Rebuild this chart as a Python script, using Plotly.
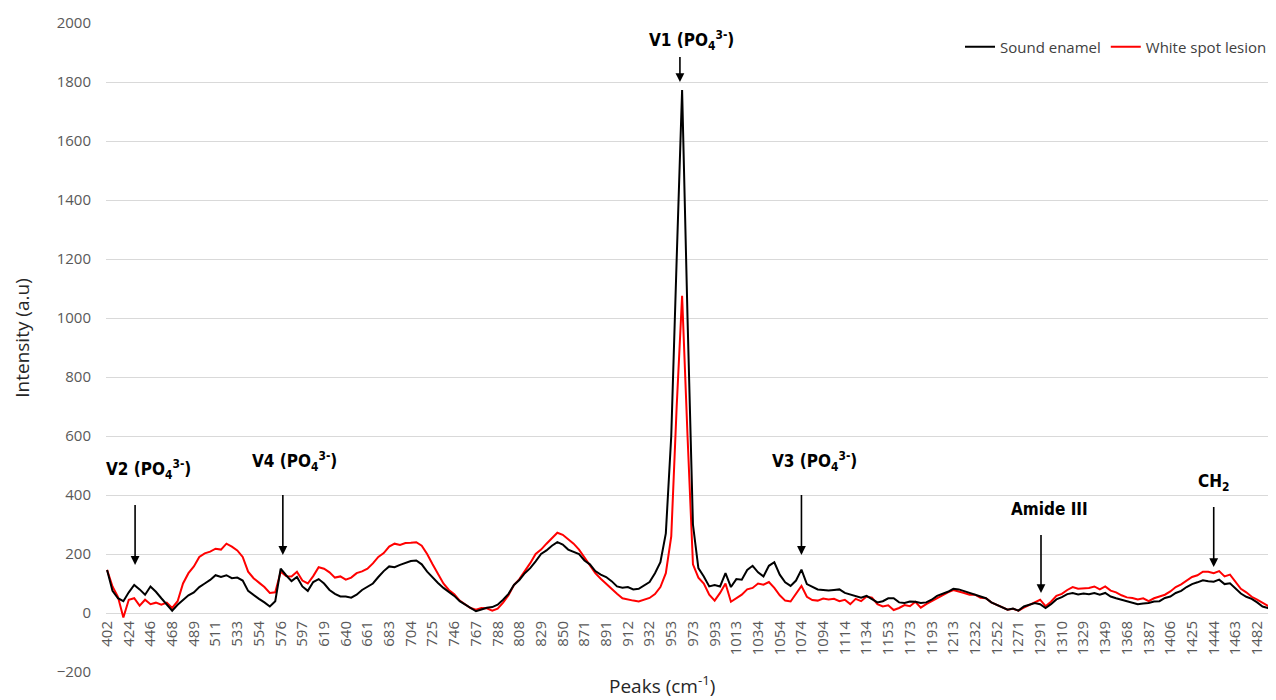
import numpy as np
import plotly.graph_objects as go

# ---------------- data ----------------
tick_labels = ["402", "424", "446", "468", "489", "511", "533", "554", "576", "597",
               "619", "640", "661", "683", "704", "725", "746", "767", "788", "808",
               "829", "850", "871", "891", "912", "932", "953", "973", "993", "1013",
               "1034", "1054", "1074", "1094", "1114", "1134", "1153", "1173", "1193", "1213",
               "1232", "1252", "1271", "1291", "1310", "1329", "1349", "1368", "1387", "1406",
               "1425", "1444", "1463", "1482"]

points_per_tick = 4

sound_enamel = [
    146, 75, 50, 40, 70, 95, 80, 62, 90, 72, 50, 30, 8, 28, 45, 60,
    70, 88, 100, 112, 128, 122, 128, 118, 120, 110, 75, 60, 48, 36, 22, 40,
    150, 128, 108, 122, 90, 75, 105, 115, 100, 78, 65, 56, 56, 52, 62, 78,
    88, 100, 122, 142, 158, 155, 163, 170, 176, 178, 165, 140, 120, 102, 85, 72,
    58, 40, 28, 17, 6, 12, 18, 20, 28, 45, 65, 95, 112, 135, 152, 175,
    200, 212, 228, 240, 232, 215, 208, 200, 178, 165, 142, 130, 122, 108, 90, 86,
    88, 80, 82, 94, 105, 135, 172, 270, 600, 1200, 1773, 1000, 300, 152, 124, 90,
    95, 90, 135, 88, 115, 113, 146, 160, 138, 124, 160, 172, 130, 104, 92, 110,
    147, 98, 88, 80, 78, 76, 78, 80, 68, 62, 56, 52, 58, 48, 36, 40,
    50, 50, 36, 34, 39, 38, 34, 36, 45, 58, 65, 72, 82, 80, 74, 68,
    62, 56, 50, 36, 27, 18, 11, 15, 8, 22, 28, 34, 30, 17, 30, 46,
    54, 64, 68, 63, 66, 64, 68, 62, 68, 56, 50, 45, 42, 36, 30, 32,
    34, 39, 40, 51, 56, 68, 75, 88, 98, 104, 111, 108, 106, 113, 98, 101,
    85, 66, 55, 48, 36, 22, 17, 3,
]

white_spot_lesion = [
    146, 90, 55, -15, 45, 50, 25, 45, 30, 35, 28, 35, 17, 40, 100, 135,
    158, 190, 202, 208, 218, 215, 235, 225, 212, 190, 140, 118, 103, 88, 68, 70,
    140, 125, 124, 140, 110, 100, 125, 155, 150, 138, 120, 124, 113, 120, 135, 141,
    150, 168, 190, 203, 225, 235, 231, 237, 238, 240, 228, 200, 165, 130, 100, 78,
    64, 42, 28, 17, 11, 17, 16, 8, 15, 35, 60, 95, 115, 140, 169, 200,
    215, 235, 255, 272, 265, 250, 235, 215, 188, 160, 135, 116, 98, 80, 65, 50,
    45, 42, 39, 44, 51, 64, 88, 135, 260, 700, 1075, 600, 165, 120, 100, 62,
    42, 68, 100, 38, 50, 62, 80, 85, 100, 96, 105, 85, 60, 42, 39, 65,
    92, 55, 44, 42, 49, 46, 48, 40, 45, 30, 48, 40, 56, 52, 30, 22,
    26, 10, 17, 27, 23, 38, 18, 30, 40, 52, 60, 70, 78, 74, 68, 62,
    62, 52, 50, 36, 27, 20, 11, 14, 8, 18, 27, 34, 45, 23, 38, 58,
    65, 78, 88, 82, 84, 85, 90, 80, 90, 76, 70, 60, 53, 51, 46, 50,
    40, 50, 56, 62, 73, 88, 97, 110, 122, 128, 140, 140, 135, 142, 124, 130,
    107, 82, 70, 55, 45, 34, 24, 2,
]

series_names = ["Sound enamel", "White spot lesion"]
series_colors = ["#000000", "#FF0000"]

# peak annotations: label, arrow head (tick units, intensity)
peak_labels = ["V2 (PO<sub>4</sub><sup>3-</sup>)", "V4 (PO<sub>4</sub><sup>3-</sup>)",
               "V1 (PO<sub>4</sub><sup>3-</sup>)", "V3 (PO<sub>4</sub><sup>3-</sup>)",
               "Amide III", "CH<sub>2</sub>"]
arrow_x = [1.29, 8.1, 26.4, 32.0, 43.04, 51.0]
arrow_y = [163, 197, 1800, 197, 68, 156]
arrow_len = [62, 62, 27, 62, 60, 62]
label_x = [1.9, 8.65, 26.95, 32.6, 43.45, 51.0]
label_y = [485, 515, 1942, 512, 352, 441]

y_min, y_max = -200, 2000

# ---------------- figure ----------------
x = np.arange(len(sound_enamel)) / points_per_tick

traces = []
for name, vals, col in zip(series_names, [sound_enamel, white_spot_lesion], series_colors):
    traces.append(go.Scatter(x=x, y=vals, mode="lines", name=name,
                             line=dict(color=col, width=2)))
# red drawn first, black on top
fig = go.Figure(data=[traces[1], traces[0]])

ann_font = dict(family="Liberation Sans Narrow, DejaVu Sans Condensed, Arial Narrow, sans-serif",
                size=17, color="#000000", weight="bold")
annotations = []
for lx, ly, txt in zip(label_x, label_y, peak_labels):
    annotations.append(dict(x=lx, y=ly, xref="x", yref="y", text=txt, showarrow=False,
                            font=ann_font, xanchor="center", yanchor="middle"))
for ax_, ay_, ln in zip(arrow_x, arrow_y, arrow_len):
    annotations.append(dict(x=ax_, y=ay_, xref="x", yref="y", text=" ", showarrow=True,
                            ax=0, ay=-ln, arrowhead=2, arrowsize=1.1, arrowwidth=1.6,
                            arrowcolor="#000000", font=dict(size=1)))

annotations.append(dict(text="Peaks (cm<sup>-1</sup>)", xref="paper", yref="paper",
                        x=0.475, y=0, yanchor="middle", yshift=-13, showarrow=False,
                        font=dict(family="Open Sans, sans-serif", size=19, color="#262626")))
annotations.append(dict(text="Intensity (a.u)", xref="paper", yref="paper",
                        x=0, xshift=-84, xanchor="center", y=0.515, yanchor="middle",
                        textangle=-90, showarrow=False,
                        font=dict(family="Open Sans, sans-serif", size=19, color="#262626")))

# the page body adds an 8 px offset, so the figure is 8 px smaller than the window
fig.update_layout(
    width=1268, height=692,
    margin=dict(l=98, r=0, t=15, b=28, autoexpand=False),
    paper_bgcolor="white", plot_bgcolor="white",
    font=dict(family="Open Sans, sans-serif", color="#595959"),
    showlegend=True,
    legend=dict(orientation="h", x=(960 - 106) / 1170, xanchor="left", y=0.963, yanchor="middle",
                font=dict(size=15, color="#404040"), bgcolor="rgba(0,0,0,0)",
                traceorder="reversed", itemwidth=30),
    annotations=annotations,
    xaxis=dict(
        range=[-0.05, 53.87], tickmode="array",
        tickvals=list(range(len(tick_labels))), ticktext=tick_labels,
        tickangle=-90, tickfont=dict(size=15, color="#595959"),
        showgrid=False, zeroline=False, showline=False, ticks="",
        anchor="free", position=(0 - y_min) / (y_max - y_min),
        ticklabelstandoff=4, automargin=False,
    ),
    yaxis=dict(
        range=[y_min, y_max], dtick=200, tick0=0,
        showgrid=True, gridcolor="#D9D9D9", gridwidth=1,
        zeroline=False, showline=False, ticks="",
        tickfont=dict(size=15, color="#595959"),
        ticklabelstandoff=14, automargin=False,
    ),
)

fig.write_html("out.html")
